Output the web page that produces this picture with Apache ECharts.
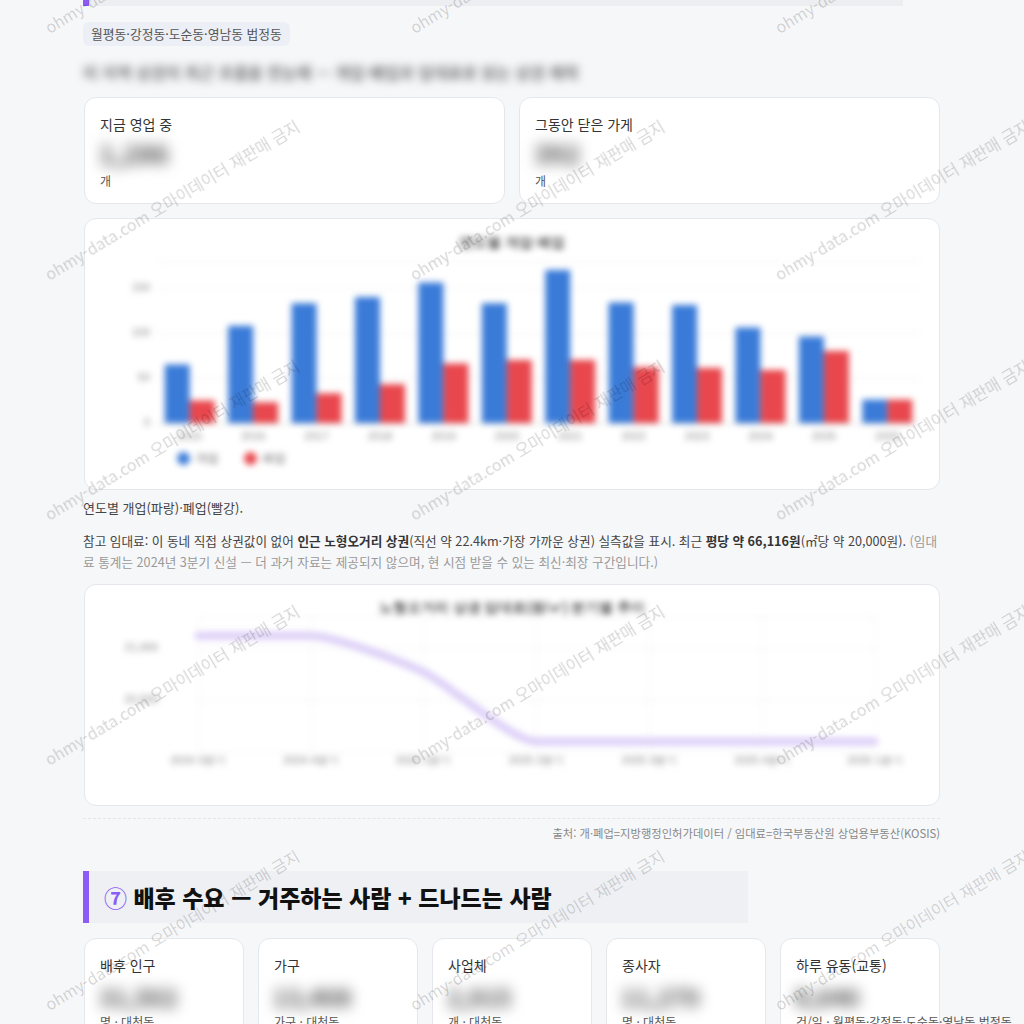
<!DOCTYPE html>
<html lang="ko">
<head>
<meta charset="utf-8">
<script src="https://cdn.jsdelivr.net/npm/echarts@6/dist/echarts.min.js"></script>
<style>
  html,body{margin:0;padding:0;background:#f6f7f9;width:1024px;height:1024px;overflow:hidden;
    font-family:"Noto Sans CJK KR","Noto Sans",sans-serif;color:#333;}
  .abs{position:absolute;}
  .card{position:absolute;background:#fff;border:1px solid #e4e7ec;border-radius:12px;box-sizing:border-box;overflow:visible;}
  .lbl{position:absolute;font-size:14px;color:#333;white-space:nowrap;}
  .num{position:absolute;font-size:26px;font-weight:700;color:#4a4a4a;filter:blur(7px);white-space:nowrap;}
  .unit{position:absolute;font-size:12px;color:#555;white-space:nowrap;}
  .chart{position:absolute;left:0;top:0;filter:blur(3px);}
  .wm{position:absolute;font-size:16px;color:rgba(0,0,0,0.17);white-space:nowrap;transform-origin:0 100%;transform:rotate(-31deg);pointer-events:none;line-height:16px;}
  b{font-weight:700;color:#333;}
</style>
</head>
<body>
<!-- previous section header tail -->
<div class="abs" style="left:83px;top:-50px;width:820px;height:56px;background:#eceef2;"></div>
<div class="abs" style="left:83px;top:-50px;width:6px;height:56px;background:#8b5cf6;"></div>

<div class="abs" style="left:83px;top:22px;height:24px;padding:0 8px;background:#eceff5;border-radius:6px;font-size:12.8px;line-height:24px;color:#555;">월평동·강정동·도순동·영남동 법정동</div>

<div class="abs" style="left:83px;top:60px;font-size:16px;font-weight:600;color:#777;filter:blur(4.5px);white-space:nowrap;">이 지역 상권의 최근 흐름을 한눈에 — 개업·폐업과 임대료로 읽는 상권 체력</div>

<div class="card" style="left:84px;top:97px;width:421px;height:107px;">
  <div class="lbl" style="left:15px;top:16px;">지금 영업 중</div>
  <div class="num" style="left:14px;top:36px;">1,286</div>
  <div class="unit" style="left:15px;top:74px;">개</div>
</div>
<div class="card" style="left:519px;top:97px;width:421px;height:107px;">
  <div class="lbl" style="left:15px;top:16px;">그동안 닫은 가게</div>
  <div class="num" style="left:14px;top:36px;">392</div>
  <div class="unit" style="left:15px;top:74px;">개</div>
</div>

<div class="card" style="left:84px;top:218px;width:856px;height:272px;">
  <div id="bar" class="chart" style="width:854px;height:270px;"></div>
</div>

<div class="abs" style="left:83px;top:498px;font-size:13px;color:#444;white-space:nowrap;">연도별 개업(파랑)·폐업(빨강).</div>

<div class="abs" style="left:83px;top:530px;width:858px;font-size:12.65px;line-height:21px;color:#444;">참고 임대료: 이 동네 직접 상권값이 없어 <b>인근 노형오거리 상권</b>(직선 약 22.4km·가장 가까운 상권) 실측값을 표시. 최근 <b>평당 약 66,116원</b>(㎡당 약 20,000원). <span style="color:#999;">(임대료 통계는 2024년 3분기 신설 — 더 과거 자료는 제공되지 않으며, 현 시점 받을 수 있는 최신·최장 구간입니다.)</span></div>

<div class="card" style="left:84px;top:584px;width:856px;height:222px;">
  <div id="line" class="chart" style="width:854px;height:220px;"></div>
</div>

<div class="abs" style="left:83px;top:818px;width:857px;border-top:1px dashed #e3e5e9;"></div>
<div class="abs" style="right:84px;top:825px;font-size:11.3px;color:#888;white-space:nowrap;">출처: 개·폐업=지방행정인허가데이터 / 임대료=한국부동산원 상업용부동산(KOSIS)</div>

<div class="abs" style="left:83px;top:871px;width:665px;height:52px;background:#eef0f4;"></div>
<div class="abs" style="left:83px;top:871px;width:6px;height:52px;background:#8b5cf6;"></div>
<div class="abs" style="left:104px;top:880px;font-size:23px;line-height:34px;font-weight:800;color:#111;white-space:nowrap;"><span style="color:#8b5cf6;font-weight:700;">⑦</span> 배후 수요 — 거주하는 사람 + 드나드는 사람</div>

<div class="card" style="left:84px;top:938px;width:160px;height:120px;">
  <div class="lbl" style="left:15px;top:16px;">배후 인구</div>
  <div class="num" style="left:14px;top:40px;font-size:24px;">31,502</div>
  <div class="unit" style="left:15px;top:74px;">명 · 대천동</div>
</div>
<div class="card" style="left:258px;top:938px;width:160px;height:120px;">
  <div class="lbl" style="left:15px;top:16px;">가구</div>
  <div class="num" style="left:14px;top:40px;font-size:24px;">13,408</div>
  <div class="unit" style="left:15px;top:74px;">가구 · 대천동</div>
</div>
<div class="card" style="left:432px;top:938px;width:160px;height:120px;">
  <div class="lbl" style="left:15px;top:16px;">사업체</div>
  <div class="num" style="left:14px;top:40px;font-size:24px;">2,915</div>
  <div class="unit" style="left:15px;top:74px;">개 · 대천동</div>
</div>
<div class="card" style="left:606px;top:938px;width:160px;height:120px;">
  <div class="lbl" style="left:15px;top:16px;">종사자</div>
  <div class="num" style="left:14px;top:40px;font-size:24px;">11,270</div>
  <div class="unit" style="left:15px;top:74px;">명 · 대천동</div>
</div>
<div class="card" style="left:780px;top:938px;width:160px;height:120px;">
  <div class="lbl" style="left:15px;top:16px;">하루 유동(교통)</div>
  <div class="num" style="left:14px;top:40px;font-size:24px;">8,640</div>
  <div class="unit" style="left:15px;top:74px;">건/일 · 월평동·강정동·도순동·영남동 법정동</div>
</div>

<div id="wm"></div>

<script>
// ---- data: yearly openings / closures ----
const years = ['2015','2016','2017','2018','2019','2020','2021','2022','2023','2024','2025','2026'];
const openings = [65, 108, 133, 140, 156, 133, 170, 134, 131, 106, 96, 26];
const closures = [25, 23, 33, 43, 66, 70, 70, 62, 61, 59, 80, 26];

// ---- data: rent per ㎡ (quarterly) ----
const quarters = ['2024 3분기','2024 4분기','2025 1분기','2025 2분기','2025 3분기','2025 4분기','2026 1분기'];
const rent = [21120, 21120, 20770, 20100, 20100, 20100, 20100];
const rentTicks = {min:20000, max:21300, interval:500};

const barChart = echarts.init(document.getElementById('bar'), null, {renderer:'canvas'});
barChart.setOption({
  animation:false,
  title:{text:'연도별 개업·폐업', left:'center', top:12, textStyle:{fontSize:14, fontWeight:'bold', color:'#555'}},
  legend:{left:87, top:228, icon:'circle', itemWidth:13, itemHeight:13, itemGap:25,
    textStyle:{fontSize:12, color:'#666'}},
  grid:{left:73, right:20, top:42, bottom:66},
  xAxis:{type:'category', data:years,
    axisLine:{lineStyle:{color:'#ccc'}}, axisTick:{show:false},
    axisLabel:{fontSize:11, color:'#888', margin:8}},
  yAxis:{type:'value', min:0, max:180, interval:50,
    axisLabel:{fontSize:11, color:'#888', showMaxLabel:false},
    splitLine:{lineStyle:{color:'#eee'}}},
  series:[
    {name:'개업', type:'bar', data:openings, barWidth:25, barGap:'0%', itemStyle:{color:'#3a7bd8'}},
    {name:'폐업', type:'bar', data:closures, barWidth:25, itemStyle:{color:'#e8474d'}}
  ]
});

const lineChart = echarts.init(document.getElementById('line'), null, {renderer:'canvas'});
lineChart.setOption({
  animation:false,
  title:{text:'노형오거리 상권 임대료(원/㎡) 분기별 추이', left:'center', top:11, textStyle:{fontSize:14, fontWeight:'bold', color:'#555'}},
  grid:{left:113, right:64, top:32, bottom:53},
  xAxis:{type:'category', data:quarters, boundaryGap:false,
    axisLine:{show:false}, axisTick:{show:false},
    axisLabel:{fontSize:11, color:'#888', margin:3},
    splitLine:{show:true, lineStyle:{color:'#f2f2f2'}}},
  yAxis:{type:'value', min:rentTicks.min, max:rentTicks.max, interval:rentTicks.interval,
    axisLabel:{fontSize:11, color:'#888', margin:40, showMinLabel:false, showMaxLabel:false},
    splitLine:{lineStyle:{color:'#f0f0f0'}}},
  series:[
    {name:'임대료', type:'line', data:rent, smooth:0.2, showSymbol:true, symbol:'circle', symbolSize:7,
      lineStyle:{color:'#dccff7', width:8}, itemStyle:{color:'#dccff7'}}
  ]
});

// ---- watermark overlay ----
const wmText = 'ohmy-data.com 오마이데이터 재판매 금지';
const wmCols = [50, 415, 780];
const wmRows = [35, 282, 522, 767, 1012];
const wm = document.getElementById('wm');
wmRows.forEach(y => wmCols.forEach(x => {
  const s = document.createElement('div');
  s.className = 'wm';
  s.textContent = wmText;
  s.style.left = x + 'px';
  s.style.top = (y - 16) + 'px';
  wm.appendChild(s);
}));
</script>
</body>
</html>
